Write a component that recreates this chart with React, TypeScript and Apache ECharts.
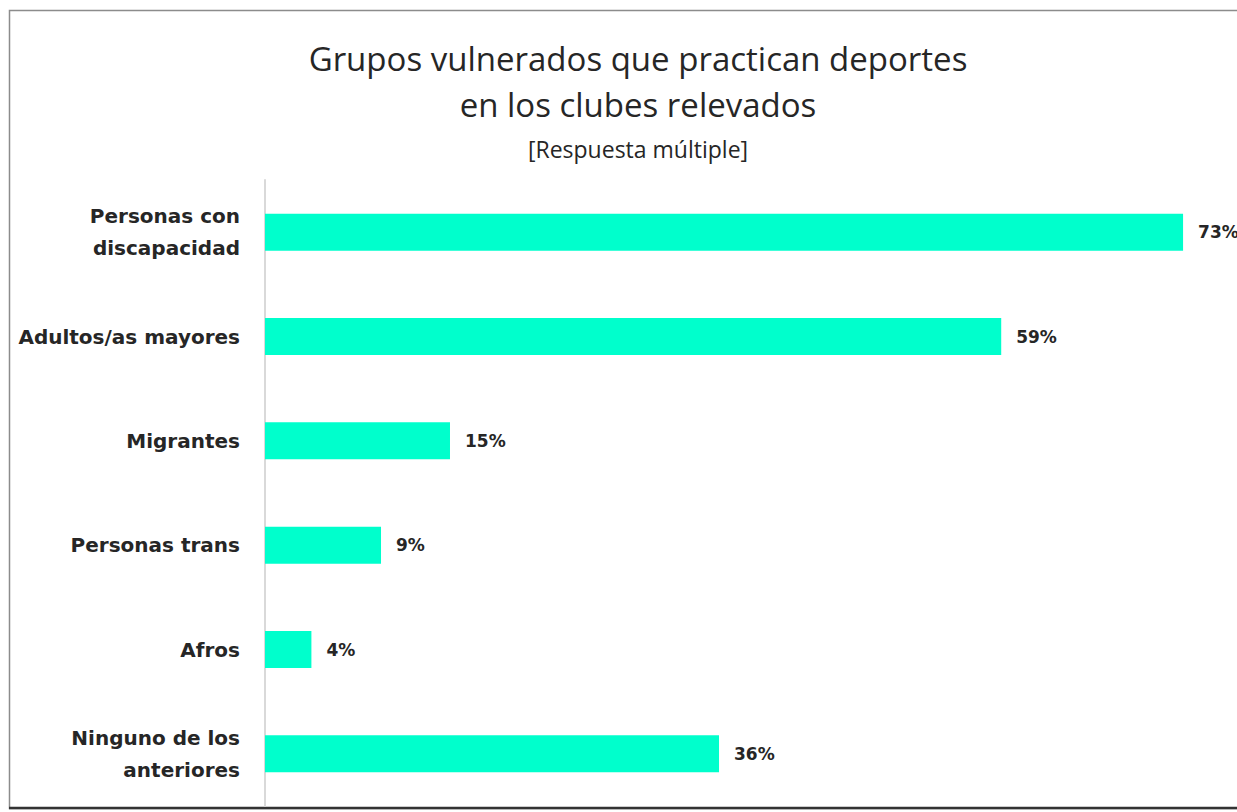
import React, { useEffect, useRef } from "react";
import * as echarts from "echarts";

const categories = [
  "Personas con\ndiscapacidad",
  "Adultos/as mayores",
  "Migrantes",
  "Personas trans",
  "Afros",
  "Ninguno de los\nanteriores",
];
const values = [73.2, 58.7, 14.75, 9.25, 3.7, 36.2];
const titleLines = ["Grupos vulnerados que practican deportes", "en los clubes relevados"];
const subtitle = "[Respuesta múltiple]";

export default function App() {
  const ref = useRef<HTMLDivElement>(null);
  useEffect(() => {
    if (!ref.current) return;
    const chart = echarts.init(ref.current, null, { renderer: "svg" });
    const titleFont = "'Open Sans', Lato, sans-serif";
    const labelFont = "'DejaVu Sans', Verdana, sans-serif";
    chart.setOption({
      animation: false,
      backgroundColor: "#ffffff",
      graphic: [
        {
          type: "rect",
          shape: { x: 9.5, y: 10.5, width: 1240, height: 798 },
          style: { fill: "none", stroke: "#8c8c8c", lineWidth: 1.5 },
          silent: true,
        },
        {
          type: "line",
          shape: { x1: 9, y1: 808, x2: 1237, y2: 808 },
          style: { stroke: "#333333", lineWidth: 2.5 },
          silent: true,
        },
        {
          type: "text",
          x: 638,
          y: 58,
          style: {
            text: titleLines[0],
            font: `33px ${titleFont}`,
            fill: "#262626",
            align: "center",
            verticalAlign: "middle",
          },
        },
        {
          type: "text",
          x: 638,
          y: 104,
          style: {
            text: titleLines[1],
            font: `33px ${titleFont}`,
            fill: "#262626",
            align: "center",
            verticalAlign: "middle",
          },
        },
        {
          type: "text",
          x: 638,
          y: 149,
          style: {
            text: subtitle,
            font: `23px ${titleFont}`,
            fill: "#262626",
            align: "center",
            verticalAlign: "middle",
          },
        },
      ],
      grid: { left: 265, top: 180, right: 0, height: 626 },
      xAxis: {
        type: "value",
        min: 0,
        max: 77.5,
        show: false,
      },
      yAxis: {
        type: "category",
        data: categories,
        inverse: true,
        axisLine: { show: true, lineStyle: { color: "#d9d9d9", width: 2 } },
        axisTick: { show: false },
        axisLabel: {
          margin: 25,
          fontFamily: labelFont,
          fontWeight: "bold",
          fontSize: 20,
          lineHeight: 32,
          color: "#262626",
          align: "right",
        },
      },
      series: [
        {
          type: "bar",
          data: values,
          barWidth: 37,
          itemStyle: { color: "#00ffcc" },
          label: {
            show: true,
            position: "right",
            distance: 15,
            fontFamily: labelFont,
            fontWeight: "bold",
            fontSize: 17,
            color: "#262626",
            formatter: (p: any) => `${Math.round(p.value)}%`,
          },
        },
      ],
    });
    return () => chart.dispose();
  }, []);
  return (
    <div
      ref={ref}
      style={{ position: "fixed", left: 0, top: 0, width: 1237, height: 812 }}
    />
  );
}
